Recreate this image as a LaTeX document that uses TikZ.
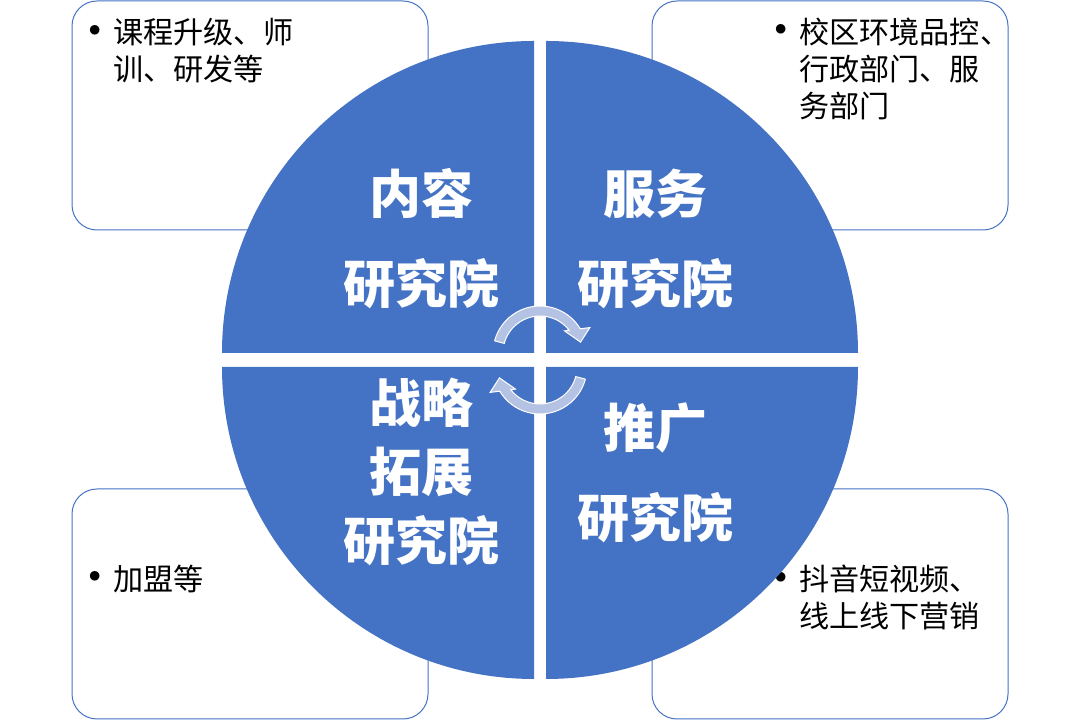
\documentclass[tikz,border=0pt]{standalone}
\usepackage{fontspec}
\setmainfont{Noto Sans CJK SC}
\usetikzlibrary{calc}
\definecolor{qblue}{HTML}{4472C4}
\definecolor{arrowfill}{RGB}{180,194,228}
\newcommand{\bulmark}{\makebox[27pt][c]{\raisebox{-2.5pt}{\fontsize{34pt}{27.75pt}\selectfont •}}}
\begin{document}
\begin{tikzpicture}[x=0.75pt,y=0.75pt,
  quad/.style={fill=qblue},
  infobox/.style={draw=qblue, line width=0.75pt, rounded corners=18.75pt, fill=white},
  head/.style={text=white, font=\fontsize{39pt}{67.5pt}\selectfont\bfseries, align=center, inner sep=0pt},
  headb/.style={head, font=\fontsize{39pt}{52pt}\selectfont\bfseries},
  bultext/.style={anchor=west, inner sep=0pt, font=\fontsize{22.6pt}{27.75pt}\selectfont, text=black},
  cyc/.style={fill=arrowfill, draw=white, line width=0.75pt}
]
\useasboundingbox (0,0) rectangle (1079,720);

% corner boxes
\draw[infobox] (72,490) rectangle (428,719);
\draw[infobox] (652,490) rectangle (1008,719);
\draw[infobox] (72,1) rectangle (428,231);
\draw[infobox] (652,1) rectangle (1008,231);

% box texts
\node[bultext] (tltext) at (77,665) {\begin{tabular}{@{}p{27pt}@{}l@{}}\bulmark&课程升级、师\\ &训、研发等\end{tabular}};
\node[bultext] (trtext) at (763,647) {\begin{tabular}{@{}p{27pt}@{}l@{}}\bulmark&校区环境品控、\\ &行政部门、服\\ &务部门\end{tabular}};
\node[bultext] (bltext) at (77,137) {\begin{tabular}{@{}p{27pt}@{}l@{}}\bulmark&加盟等\end{tabular}};
\node[bultext] (brtext) at (763,118) {\begin{tabular}{@{}p{27pt}@{}l@{}}\bulmark&抖音短视频、\\ &线上线下营销\end{tabular}};

% quadrants
\fill[quad] (534,367) -- (222,367) arc[start angle=180,end angle=90,radius=312] -- cycle;
\fill[quad] (546,367) -- (546,679) arc[start angle=90,end angle=0,radius=312] -- cycle;
\fill[quad] (534,353) -- (222,353) arc[start angle=180,end angle=270,radius=312] -- cycle;
\fill[quad] (546,353) -- (858,353) arc[start angle=0,end angle=-90,radius=312] -- cycle;

% headings
\node[head] (tlhead) at (421,481) {内容\\研究院};
\node[head] (trhead) at (655,481) {服务\\研究院};
\node[headb] (blhead) at (421,248) {战略\\拓展\\研究院};
\node[head] (brhead) at (655,247) {推广\\研究院};

% cycle arrows
\coordinate (C1) at (540,367);
\coordinate (C2) at (540,353);
\filldraw[cyc] ($(C1)+(165:47)$) arc[start angle=165,end angle=31,radius=47]
  -- ($(C1)+(27:56)$) -- ($(C1)+(15:42)$) -- ($(C1)+(42:33)$) -- ($(C1)+(38:37)$)
  arc[start angle=38,end angle=165,radius=37] -- cycle;
\filldraw[cyc] ($(C2)+(345:47)$) arc[start angle=345,end angle=211,radius=47]
  -- ($(C2)+(207:56)$) -- ($(C2)+(195:42)$) -- ($(C2)+(222:33)$) -- ($(C2)+(218:37)$)
  arc[start angle=218,end angle=345,radius=37] -- cycle;
\end{tikzpicture}
\end{document}
